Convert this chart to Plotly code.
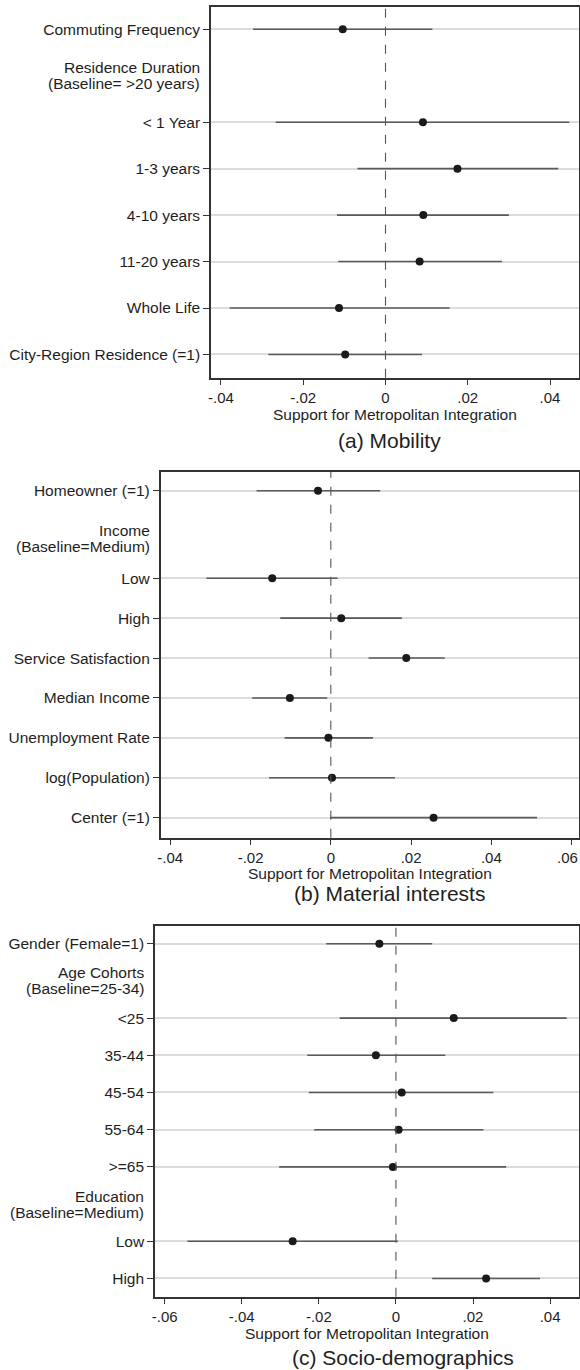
import plotly.graph_objects as go

# ---- coefficient estimates with 95% confidence bounds ----
mob_labels = ["Commuting Frequency", "< 1 Year", "1-3 years", "4-10 years",
              "11-20 years", "Whole Life", "City-Region Residence (=1)"]
mob_est = [-0.0104, 0.0091, 0.0175, 0.0092, 0.0083, -0.0113, -0.0098]
mob_lo = [-0.0322, -0.0267, -0.0068, -0.0118, -0.0115, -0.0379, -0.0285]
mob_hi = [0.0114, 0.0447, 0.0420, 0.0300, 0.0283, 0.0156, 0.0089]

mat_labels = ["Homeowner (=1)", "Low", "High", "Service Satisfaction",
              "Median Income", "Unemployment Rate", "log(Population)", "Center (=1)"]
mat_est = [-0.0032, -0.0146, 0.0026, 0.0188, -0.0102, -0.0006, 0.0003, 0.0256]
mat_lo = [-0.0185, -0.0310, -0.0126, 0.0094, -0.0196, -0.0115, -0.0154, -0.0002]
mat_hi = [0.0123, 0.0017, 0.0177, 0.0284, -0.0009, 0.0105, 0.0160, 0.0514]

soc_labels = ["Gender (Female=1)", "<25", "35-44", "45-54", "55-64", ">=65", "Low", "High"]
soc_est = [-0.0043, 0.0150, -0.0052, 0.0015, 0.0007, -0.0008, -0.0268, 0.0234]
soc_lo = [-0.0181, -0.0146, -0.0230, -0.0226, -0.0212, -0.0303, -0.0541, 0.0094]
soc_hi = [0.0094, 0.0443, 0.0128, 0.0253, 0.0227, 0.0286, 0.0005, 0.0374]

x_ticks_mob = [-0.04, -0.02, 0, 0.02, 0.04]
x_ticks_mat = [-0.04, -0.02, 0, 0.02, 0.04, 0.06]
x_ticks_soc = [-0.06, -0.04, -0.02, 0, 0.02, 0.04]


def stata_tick(v):
    if v == 0:
        return "0"
    s = f"{v:.2f}"
    return s.replace("0.", ".")


# ---- layout of the three panels (pixel geometry on a 580 x 1370 page) ----
W, H = 580, 1370
FONT = "Liberation Sans, Arial, sans-serif"
TXT = "#1e1e1e"

panels = [
    dict(name="(a) Mobility", labels=mob_labels, est=mob_est, lo=mob_lo, hi=mob_hi,
         ticks=x_ticks_mob, slots=[0, 2, 3, 4, 5, 6, 7],
         headers=[(1, "Residence Duration", "(Baseline= >20 years)")],
         left=211, right=579, top=7, bottom=377.7,
         xrange=[-0.04243, 0.04705], yrange=[7.5, -0.48],
         cap_x=389, cap_y=440, ttl_y=414.5),
    dict(name="(b) Material interests", labels=mat_labels, est=mat_est, lo=mat_lo, hi=mat_hi,
         ticks=x_ticks_mat, slots=[0, 2.195, 3.195, 4.195, 5.195, 6.195, 7.195, 8.195],
         headers=[(1.21, "Income", "(Baseline=Medium)")],
         left=160.7, right=579, top=471.7, bottom=837.7,
         xrange=[-0.04239, 0.06184], yrange=[8.697, -0.476],
         cap_x=389, cap_y=894, ttl_y=873),
    dict(name="(c) Socio-demographics", labels=soc_labels, est=soc_est, lo=soc_lo, hi=soc_hi,
         ticks=x_ticks_soc, slots=[0, 2, 3, 4, 5, 6, 8, 9],
         headers=[(1, "Age Cohorts", "(Baseline=25-34)"),
                  (7, "Education", "(Baseline=Medium)")],
         left=155, right=579, top=926, bottom=1296.7,
         xrange=[-0.06252, 0.0475], yrange=[9.49, -0.476],
         cap_x=402.7, cap_y=1357.5, ttl_y=1333),
]

fig = go.Figure()
annotations = []
shapes = []
layout_axes = {}

for i, p in enumerate(panels):
    n = "" if i == 0 else str(i + 1)
    xa, ya = "x" + n, "y" + n

    fig.add_trace(go.Scatter(
        x=p["est"], y=p["slots"], xaxis=xa, yaxis=ya, mode="markers",
        marker=dict(color="#1a1a1a", size=8),
        error_x=dict(type="data", symmetric=False,
                     array=[h - e for h, e in zip(p["hi"], p["est"])],
                     arrayminus=[e - l for e, l in zip(p["est"], p["lo"])],
                     color="#5a5a5a", thickness=1.6, width=0),
        showlegend=False, hoverinfo="skip"))

    xdom = [p["left"] / W, p["right"] / W]
    ydom = [1 - p["bottom"] / H, 1 - p["top"] / H]

    # a tick label that would run past the page edge is set flush right instead
    tick_text = []
    for t in p["ticks"]:
        lab = stata_tick(t)
        frac = (t - p["xrange"][0]) / (p["xrange"][1] - p["xrange"][0])
        px = p["left"] + frac * (p["right"] - p["left"])
        if px > W - 14:
            annotations.append(dict(
                text=lab, xref="paper", x=1.0, xanchor="right",
                yref="paper", y=1 - (p["bottom"] + 19.5) / H, yanchor="middle",
                showarrow=False, font=dict(family=FONT, size=15, color=TXT)))
            lab = " "
        tick_text.append(lab)

    layout_axes["xaxis" + n] = dict(
        domain=xdom, anchor=ya, range=p["xrange"], tickvals=p["ticks"],
        ticktext=tick_text, ticks="outside", ticklen=5,
        tickwidth=1.3, tickcolor="#333", showgrid=False, zeroline=False,
        showline=True, linecolor="#333", linewidth=1.6, mirror=True,
        tickfont=dict(family=FONT, size=15, color=TXT), automargin=False)
    layout_axes["yaxis" + n] = dict(
        domain=ydom, anchor=xa, range=p["yrange"], tickvals=p["slots"],
        ticktext=p["labels"], ticks="outside", ticklen=6, tickwidth=1.3,
        tickcolor="#333", showgrid=True, gridcolor="#dcdcdc", gridwidth=1.6,
        zeroline=False, showline=True, linecolor="#333", linewidth=1.6, mirror=True,
        tickfont=dict(family=FONT, size=15.5, color=TXT), automargin=False)

    # dashed reference line at zero
    shapes.append(dict(type="line", xref=xa, yref=ya + " domain", x0=0, x1=0, y0=0, y1=1,
                       line=dict(color="#555", width=1.1, dash="dash")))

    # group headings, right-aligned with the tick labels
    for slot, l1, l2 in p["headers"]:
        for txt, shift in ((l1, 8), (l2, -8)):
            annotations.append(dict(
                text=txt, xref="paper", x=(p["left"] - 9) / W, xanchor="right",
                yref=ya, y=slot, yanchor="middle", yshift=shift, showarrow=False,
                font=dict(family=FONT, size=15.5, color=TXT)))

    # x-axis title and panel caption
    annotations.append(dict(
        text="Support for Metropolitan Integration", xref="paper",
        x=(p["left"] + p["right"]) / 2 / W, xanchor="center",
        yref="paper", y=1 - p["ttl_y"] / H, yanchor="middle", showarrow=False,
        font=dict(family=FONT, size=15.5, color=TXT)))
    annotations.append(dict(
        text=p["name"], xref="paper", x=p["cap_x"] / W, xanchor="center",
        yref="paper", y=1 - p["cap_y"] / H, yanchor="middle", showarrow=False,
        font=dict(family=FONT, size=21, color=TXT)))

fig.update_layout(
    width=W, height=H, margin=dict(l=0, r=0, t=0, b=0),
    paper_bgcolor="white", plot_bgcolor="white",
    annotations=annotations, shapes=shapes, **layout_axes)

fig.write_html("out.html")
